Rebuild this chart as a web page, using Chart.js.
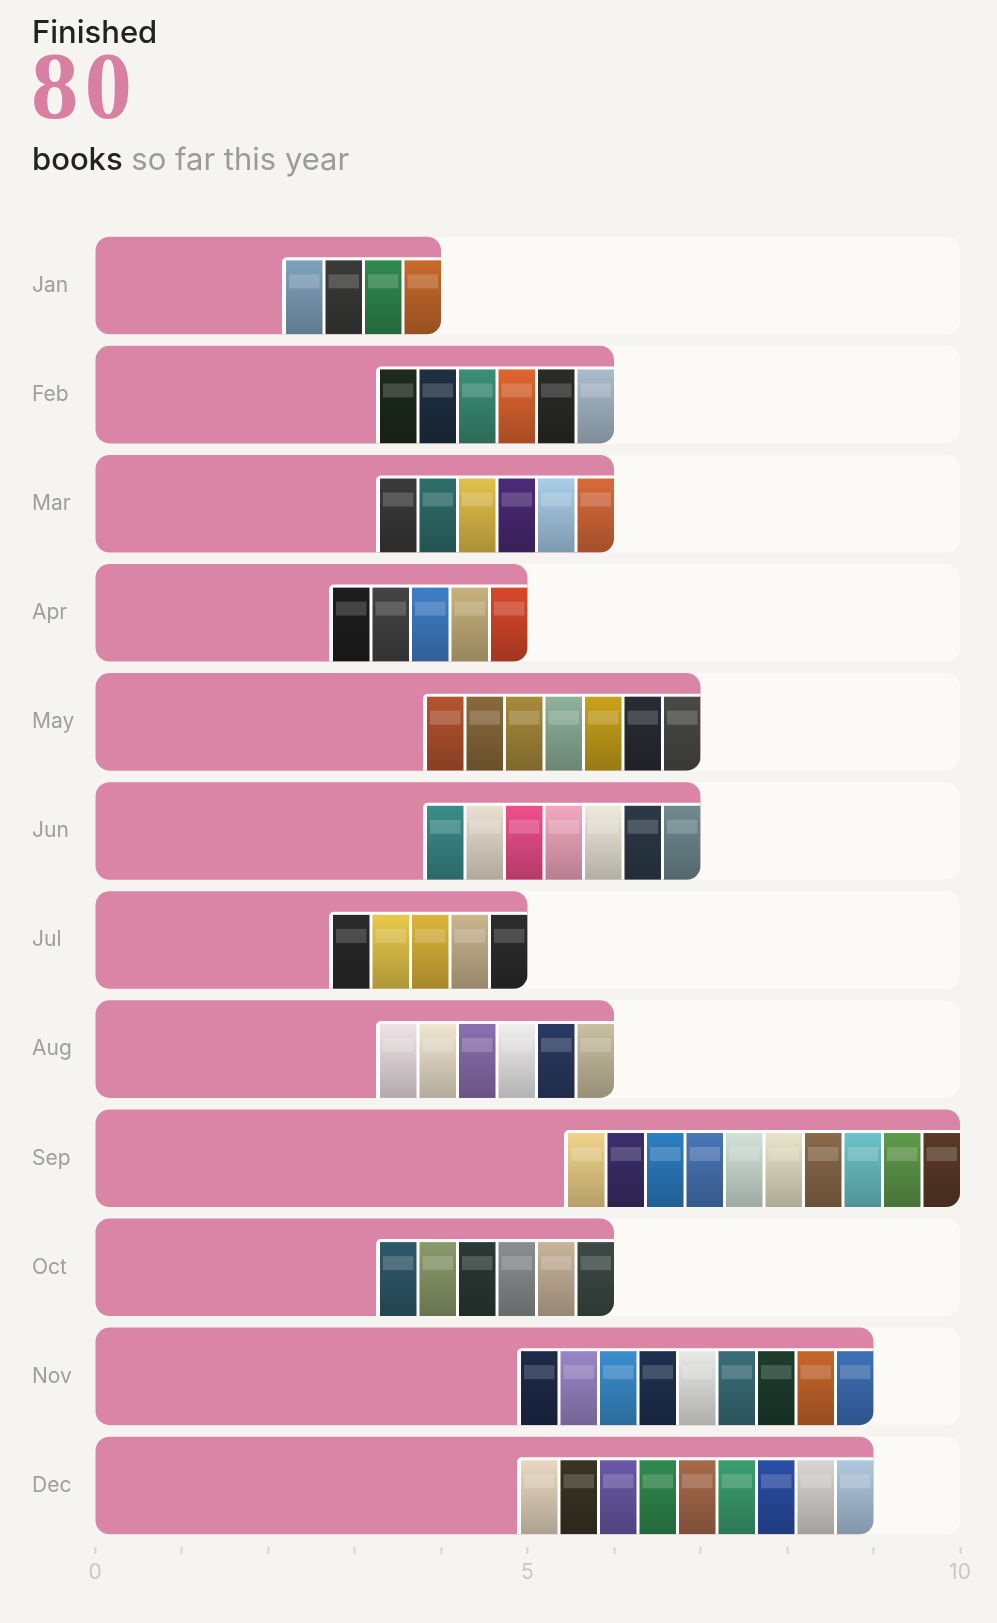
<!DOCTYPE html>
<html lang="en">
<head>
    <meta charset="UTF-8">
    <title>Finished books</title>
    <script src="https://cdn.jsdelivr.net/npm/chart.js"></script>
    <style>
        html, body { margin: 0; padding: 0; background: #f5f4f0; }
        #page { position: relative; width: 997px; height: 1623px; overflow: hidden; }
        #header { position: absolute; left: 32px; top: 0; z-index: 2; font-family: Inter, "Noto Sans", sans-serif; }
        #finished { position: absolute; top: 13px; left: 0; font-size: 31px; font-weight: 500; color: #222; white-space: nowrap; }
        #total { position: absolute; top: 34px; left: -1px; font-family: "Liberation Serif", serif; font-weight: 700; font-size: 95px; letter-spacing: 6px; color: #d97fa2; line-height: 1.1; }
        #subtitle { position: absolute; top: 140px; left: 0; font-size: 31px; color: #9b9b9b; white-space: nowrap; }
        #subtitle b { font-weight: 500; color: #222; }
        #chartBox { position: absolute; left: 0; top: 0; width: 997px; height: 1623px; }
    </style>
</head>
<body>
<div id="page">
    <div id="header">
        <div id="finished">Finished</div>
        <div id="total">80</div>
        <div id="subtitle"><b>books</b> so far this year</div>
    </div>
    <div id="chartBox"><canvas id="booksChart"></canvas></div>
</div>

<script>
    // dados
    const months = ['Jan', 'Feb', 'Mar', 'Apr', 'May', 'Jun', 'Jul', 'Aug', 'Sep', 'Oct', 'Nov', 'Dec'];
    const booksRead = [4, 6, 6, 5, 7, 7, 5, 6, 10, 6, 9, 9];
    const goalMax = 10;
    const xTickLabels = [0, 5, 10];

    // cores aproximadas das capas, uma lista por mês
    const coverColors = [
        ['#7fa3bd', '#3a3a38', '#2f8a4e', '#c86a2a'],
        ['#1d2a1c', '#1e3042', '#3a8f74', '#e0652e', '#2b2b28', '#a9bccb'],
        ['#3b3b3b', '#2e6e6a', '#e2c04a', '#4b2a78', '#a8cde8', '#d96a3a'],
        ['#1e1e1e', '#444444', '#3e7fc9', '#c8b27c', '#d9482a'],
        ['#b5542f', '#8a6a3a', '#a88a3a', '#8fb29a', '#caa21a', '#2a2c35', '#4a4a48'],
        ['#3a8c8a', '#e9e0d0', '#ee4f8b', '#f3a8c0', '#efe9dc', '#2c3a48', '#6f8a90'],
        ['#2a2a2a', '#e8c94a', '#ddb53a', '#c9b58e', '#2d2d2d'],
        ['#efe3e6', '#efe5d0', '#8c6fb0', '#f0eeee', '#2b3a63', '#c9c0a0'],
        ['#f1d48a', '#3a2f6b', '#2c7fc4', '#4a76b8', '#d2e2d8', '#e8e4c8', '#8a6a4a', '#6cc4c8', '#5f9a4a', '#5a3a28'],
        ['#2f5a6a', '#8a9a6a', '#2a3a34', '#8a8f90', '#c8b49a', '#3d4a45'],
        ['#1e2a4a', '#9a86c8', '#3a8fd0', '#1f3050', '#e8e8e6', '#3a6e7a', '#1f3d2e', '#c8672a', '#3e70b8'],
        ['#e8d8c0', '#3a3424', '#6a58a8', '#2f8a4e', '#a86a4a', '#3aa070', '#2a4fa8', '#d8d6d2', '#b0c8e0']
    ];

    const BAR_RADIUS = 14;
    const COVER_PITCH = 39.5;
    const COVER_HEIGHT = 74;

    // desenha as capas dos livros no fim de cada barra
    const coversPlugin = {
        id: 'covers',
        afterDatasetsDraw(chart) {
            const ctx = chart.ctx;
            const meta = chart.getDatasetMeta(0);
            meta.data.forEach((bar, i) => {
                const n = booksRead[i];
                const p = bar.getProps(['x', 'y', 'base', 'height'], true);
                const left = Math.min(p.base, p.x);
                const right = Math.max(p.base, p.x);
                const top = p.y - p.height / 2;
                const bottom = p.y + p.height / 2;

                ctx.save();
                ctx.beginPath();
                ctx.roundRect(left, top, right - left, p.height, BAR_RADIUS);
                ctx.clip();

                const start = right - n * COVER_PITCH;
                ctx.fillStyle = '#fdfcfa';
                ctx.beginPath();
                ctx.roundRect(start - 1, bottom - COVER_HEIGHT - 3, right - start + 1, COVER_HEIGHT + 3, [5, 0, 0, 0]);
                ctx.fill();

                for (let k = 0; k < n; k++) {
                    const cx = start + k * COVER_PITCH + 3;
                    const cw = COVER_PITCH - 3;
                    const cy = bottom - COVER_HEIGHT;
                    const c = coverColors[i][k] || '#888';
                    const g = ctx.createLinearGradient(0, cy, 0, bottom);
                    g.addColorStop(0, c);
                    g.addColorStop(1, shade(c, -0.25));
                    ctx.fillStyle = g;
                    ctx.fillRect(cx, cy, cw, COVER_HEIGHT);
                    // faixa do título
                    ctx.fillStyle = 'rgba(255,255,255,0.18)';
                    ctx.fillRect(cx + 3, cy + 14, cw - 6, 14);
                }
                ctx.restore();
            });
        }
    };

    function shade(hex, amt) {
        const v = parseInt(hex.slice(1), 16);
        let r = (v >> 16) & 255, g = (v >> 8) & 255, b = v & 255;
        r = Math.round(r * (1 + amt)); g = Math.round(g * (1 + amt)); b = Math.round(b * (1 + amt));
        return 'rgb(' + r + ',' + g + ',' + b + ')';
    }

    const ctx = document.getElementById('booksChart').getContext('2d');
    const booksChart = new Chart(ctx, {
        type: 'bar',
        data: {
            labels: months,
            datasets: [
                {
                    label: 'Books',
                    data: booksRead,
                    backgroundColor: '#da84a6',
                    borderRadius: BAR_RADIUS,
                    borderSkipped: false,
                    grouped: false,
                    barPercentage: 0.895,
                    categoryPercentage: 1
                },
                {
                    label: 'Track',
                    data: months.map(() => goalMax),
                    backgroundColor: '#fbfaf7',
                    borderRadius: BAR_RADIUS,
                    borderSkipped: false,
                    grouped: false,
                    barPercentage: 0.895,
                    categoryPercentage: 1
                }
            ]
        },
        options: {
            indexAxis: 'y',
            responsive: true,
            maintainAspectRatio: false,
            animation: false,
            layout: { padding: { top: 231, left: 32, right: 37, bottom: 39 } },
            plugins: {
                legend: { display: false },
                tooltip: { enabled: false }
            },
            scales: {
                y: {
                    afterFit: (scale) => { scale.width = 63; },
                    grid: { display: false },
                    border: { display: false },
                    ticks: {
                        crossAlign: 'far',
                        color: '#9e9e9e',
                        font: { family: 'Inter', size: 21 }
                    }
                },
                x: {
                    min: 0,
                    max: goalMax,
                    afterFit: (scale) => { scale.height = 44; },
                    border: { display: false },
                    grid: {
                        drawOnChartArea: false,
                        drawTicks: true,
                        tickLength: 14,
                        tickWidth: 2,
                        tickColor: '#d6d5d1',
                        tickBorderDash: [0, 7, 7, 100]
                    },
                    ticks: {
                        stepSize: 1,
                        autoSkip: false,
                        maxRotation: 0,
                        padding: 6,
                        color: '#c9c8c4',
                        font: { family: 'Inter', size: 21 },
                        callback: (v) => xTickLabels.includes(v) ? v : ''
                    }
                }
            }
        },
        plugins: [coversPlugin]
    });
</script>
</body>
</html>
